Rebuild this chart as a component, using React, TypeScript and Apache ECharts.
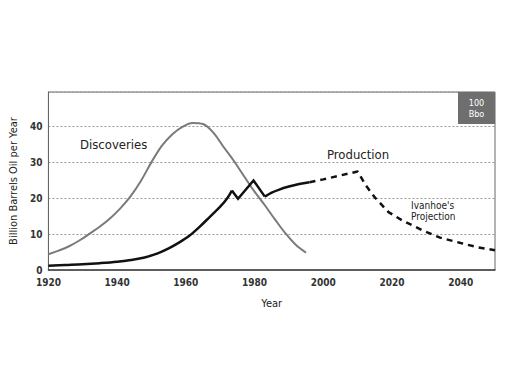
import React, { useEffect, useRef } from "react";
import * as echarts from "echarts";

const discoveryYears = [1920, 1923, 1926, 1929, 1932, 1935, 1938, 1941, 1944, 1947, 1950, 1953, 1956, 1959, 1962, 1965, 1968, 1971, 1974, 1977, 1980, 1983, 1986, 1989, 1992, 1995];
const discoveryValues = [4.4, 5.4, 6.6, 8.2, 10.1, 12.1, 14.4, 17.2, 20.6, 24.9, 30, 34.5, 37.7, 39.8, 40.9, 40.6, 38.2, 34.2, 30.3, 26, 21.8, 18, 14, 10.2, 7, 4.8];

const productionYears = [1920, 1925, 1930, 1935, 1940, 1944, 1948, 1952, 1955, 1958, 1961, 1964, 1967, 1970, 1972, 1973.4, 1975.2, 1979.7, 1983, 1985, 1987, 1990, 1993, 1996];
const productionValues = [1.2, 1.4, 1.6, 1.9, 2.3, 2.8, 3.5, 4.7, 6.0, 7.6, 9.5, 12, 14.8, 17.6, 19.9, 22.1, 19.8, 24.9, 20.4, 21.5, 22.3, 23.2, 23.9, 24.4];

const projectionYears = [1996, 2000, 2005, 2010, 2012.5, 2015, 2019, 2023, 2029, 2034, 2040, 2045, 2050];
const projectionValues = [24.4, 25.2, 26.3, 27.4, 23.4, 20.2, 16.1, 13.8, 11, 9, 7.5, 6.3, 5.5];

const yTicks = [0, 10, 20, 30, 40];
const xTicks = [1920, 1940, 1960, 1980, 2000, 2020, 2040];

const FONT = "'Liberation Sans Narrow', 'DejaVu Sans Condensed', 'Liberation Sans', sans-serif";

const zip = (xs: number[], ys: number[]) => xs.map((x, i) => [x, ys[i]]);
const production = zip(productionYears, productionValues);
const firstPeak = productionYears.indexOf(1973.4);
const secondDip = productionYears.indexOf(1983);

export default function App() {
  const ref = useRef<HTMLDivElement>(null);
  useEffect(() => {
    document.body.style.margin = "0";
    if (!ref.current) return;
    const chart = echarts.init(ref.current, null, { renderer: "svg" });
    const prodLine = { color: "#111", width: 2.5, join: "miter" };
    chart.setOption({
      animation: false,
      backgroundColor: "#ffffff",
      grid: {
        left: 38,
        right: 17,
        top: 92,
        bottom: 114,
        show: true,
        borderColor: "#666",
        borderWidth: 1,
      },
      xAxis: {
        type: "value",
        min: 1920,
        max: 2050,
        interval: 20,
        name: "Year",
        nameLocation: "middle",
        nameGap: 28,
        nameTextStyle: { fontFamily: FONT, fontSize: 11, color: "#222" },
        axisLine: { show: true, lineStyle: { color: "#444", width: 1.5 } },
        axisTick: { show: false },
        splitLine: { show: false },
        axisLabel: {
          fontFamily: FONT,
          fontSize: 10,
          fontWeight: "bold",
          color: "#333",
          margin: 7,
          formatter: (v: number) => (xTicks.includes(v) ? String(v) : ""),
        },
      },
      yAxis: {
        type: "value",
        min: 0,
        max: 49.5,
        interval: 10,
        name: "Billion Barrels Oil per Year",
        nameLocation: "middle",
        nameGap: 24,
        nameTextStyle: { fontFamily: FONT, fontSize: 11, color: "#222" },
        axisLine: { show: true, lineStyle: { color: "#666", width: 1 } },
        axisTick: { show: false },
        splitLine: { show: true, lineStyle: { color: "#999", type: [2, 2], width: 1 } },
        axisLabel: {
          fontFamily: FONT,
          fontSize: 10,
          fontWeight: "bold",
          color: "#333",
          margin: 6,
          formatter: (v: number) => (yTicks.includes(v) ? String(v) : ""),
        },
      },
      graphic: [
        {
          type: "rect",
          shape: { x: 458, y: 92, width: 37, height: 32 },
          style: { fill: "#6e6e6e" },
          z: 10,
        },
        {
          type: "text",
          x: 476.5,
          y: 108,
          style: {
            text: "100\nBbo",
            fill: "#fff",
            font: `9px ${FONT}`,
            align: "center",
            verticalAlign: "middle",
            lineHeight: 11,
          },
          z: 11,
        },
        {
          type: "text",
          x: 80,
          y: 144,
          style: { text: "Discoveries", fill: "#222", font: `13px ${FONT}`, verticalAlign: "middle" },
          z: 11,
        },
        {
          type: "text",
          x: 327,
          y: 154,
          style: { text: "Production", fill: "#222", font: `13px ${FONT}`, verticalAlign: "middle" },
          z: 11,
        },
        {
          type: "text",
          x: 411,
          y: 211,
          style: {
            text: "Ivanhoe's\nProjection",
            fill: "#222",
            font: `10px ${FONT}`,
            verticalAlign: "middle",
            lineHeight: 11,
          },
          z: 11,
        },
      ],
      series: [
        {
          name: "Discoveries",
          type: "line",
          data: zip(discoveryYears, discoveryValues),
          smooth: 0.35,
          showSymbol: false,
          lineStyle: { color: "#7a7a7a", width: 2 },
        },
        {
          name: "Production",
          type: "line",
          data: production.slice(0, firstPeak + 1),
          smooth: 0.35,
          showSymbol: false,
          lineStyle: prodLine,
        },
        {
          name: "Production swings",
          type: "line",
          data: production.slice(firstPeak, secondDip + 1),
          smooth: false,
          showSymbol: false,
          lineStyle: prodLine,
        },
        {
          name: "Production recovery",
          type: "line",
          data: production.slice(secondDip),
          smooth: 0.35,
          showSymbol: false,
          lineStyle: prodLine,
        },
        {
          name: "Projection",
          type: "line",
          data: zip(projectionYears, projectionValues),
          smooth: false,
          showSymbol: false,
          lineStyle: { color: "#111", width: 2.5, type: [6, 5] },
        },
      ],
    });
    return () => chart.dispose();
  }, []);
  return <div ref={ref} style={{ width: 512, height: 384 }} />;
}
